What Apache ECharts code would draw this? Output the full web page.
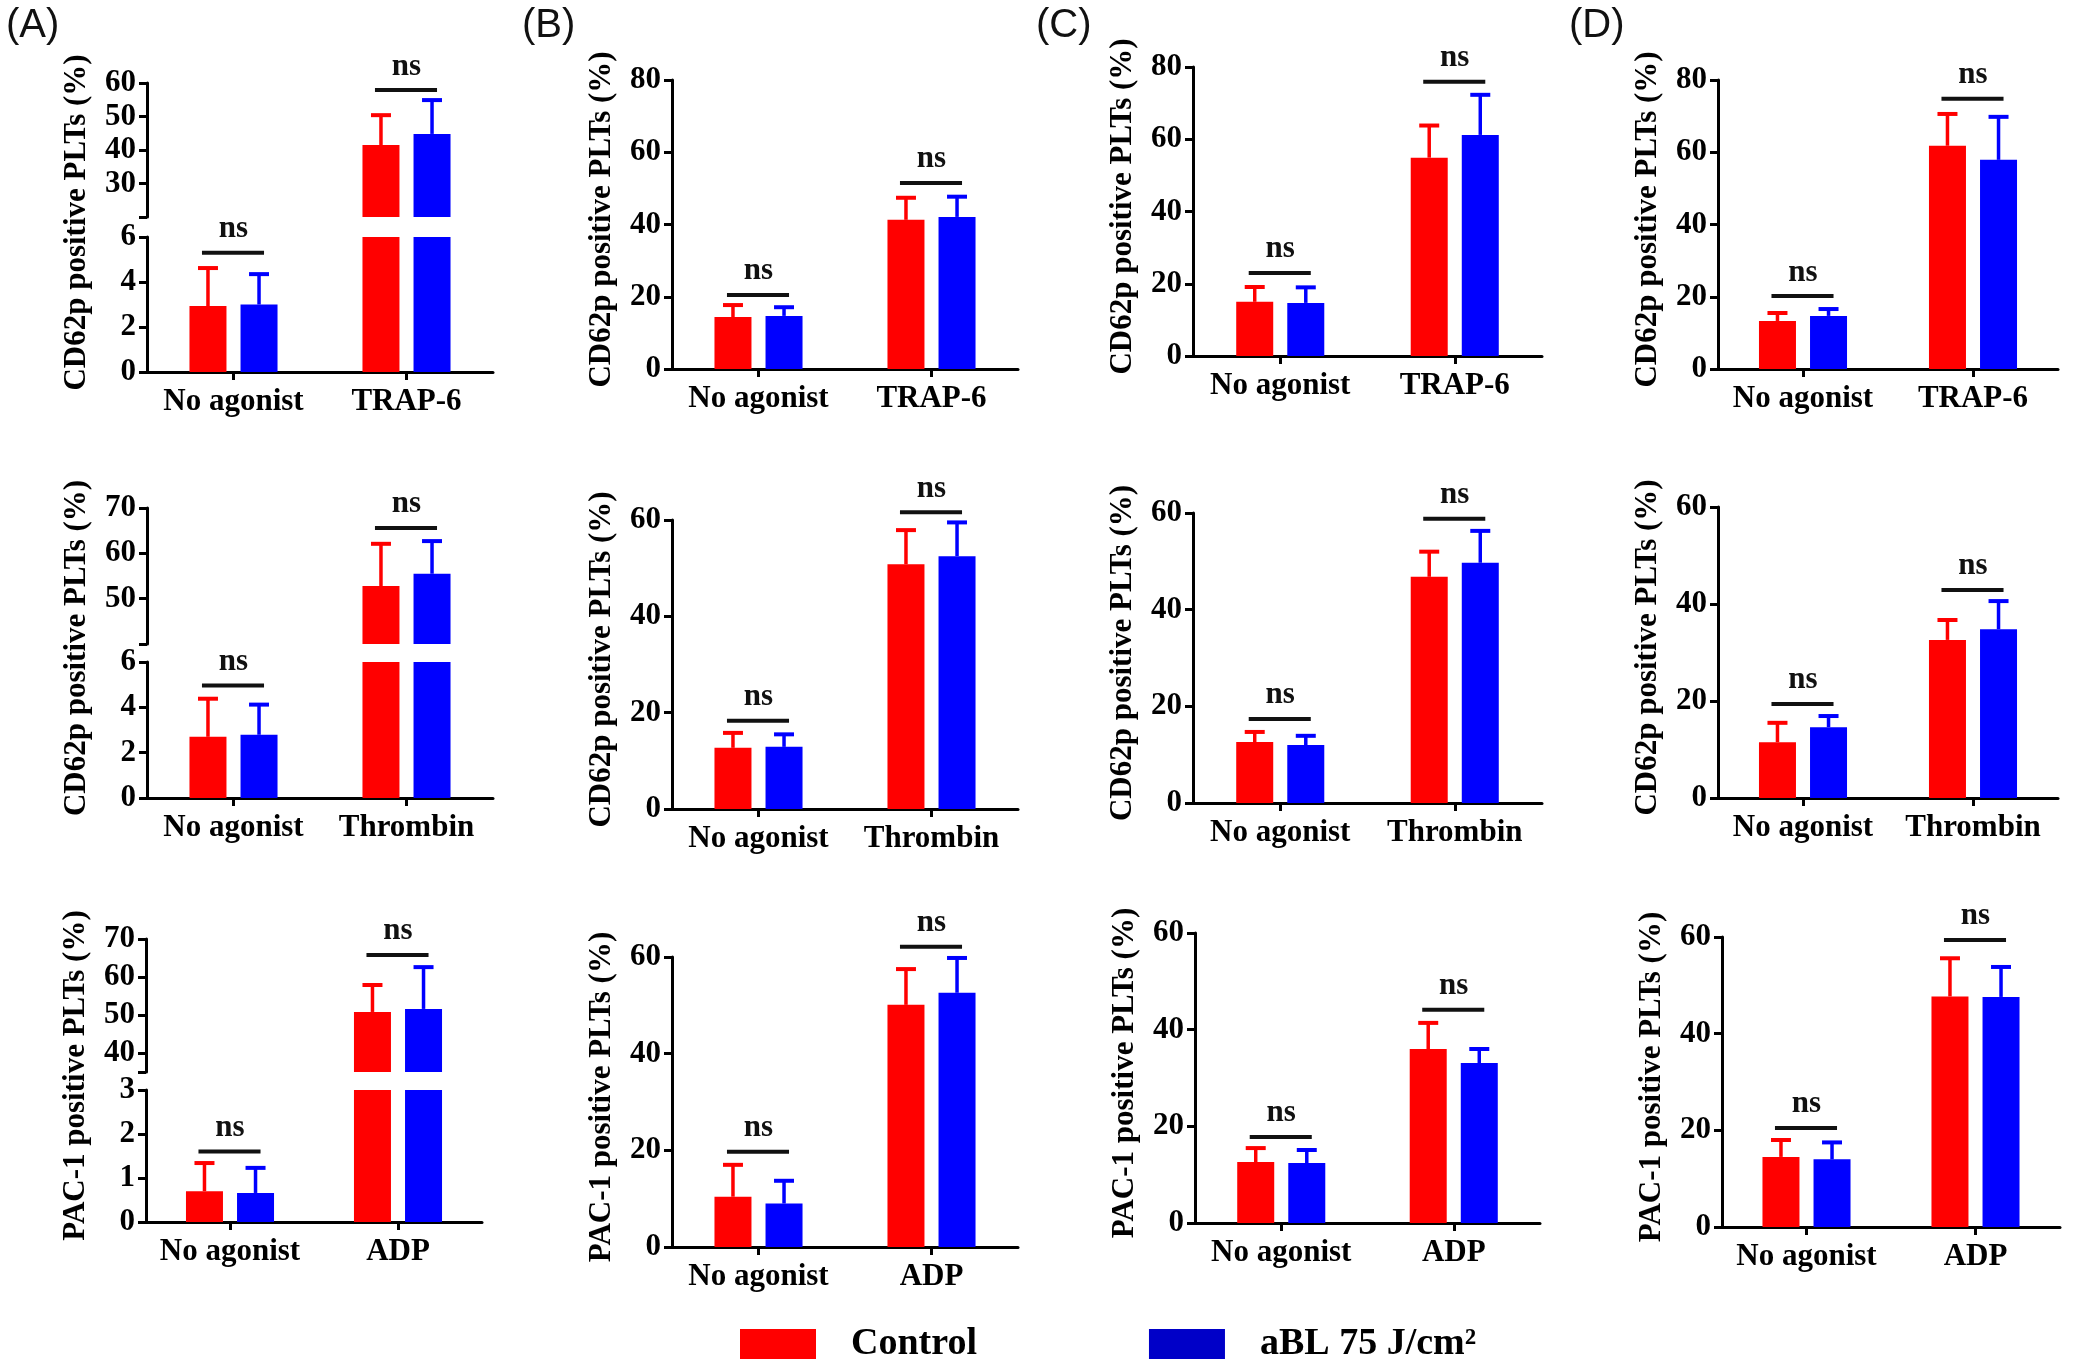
<!DOCTYPE html>
<html><head><meta charset="utf-8">
<script src="https://cdn.jsdelivr.net/npm/echarts@6/dist/echarts.min.js"></script>
<style>html,body{margin:0;padding:0;background:#fff}#c{width:2091px;height:1362px}</style>
</head><body><div id="c"></div>
<script>
// ---------------- DATA ----------------
const catsTRAP = ['No agonist', 'TRAP-6'];
const catsThr = ['No agonist', 'Thrombin'];
const catsADP = ['No agonist', 'ADP'];
const titleCD62p = 'CD62p positive PLTs (%)';
const titlePAC1 = 'PAC-1 positive PLTs (%)';
const nameControl = 'Control';
const nameABL = 'aBL 75 J/cm²';
const panelLetters = ['(A)', '(B)', '(C)', '(D)'];

// (A) – broken y axes
const A1_control = [2.93, 41.5], A1_controlSD = [1.69, 8.9], A1_abl = [3.0, 44.8], A1_ablSD = [1.35, 10.1], A1_ns = [5.3, 57.9];
const A1_lowTicks = [0, 2, 4, 6], A1_highTicks = [20, 30, 40, 50, 60], A1_highLabels = [30, 40, 50, 60];
const A2_control = [2.7, 52.8], A2_controlSD = [1.68, 9.3], A2_abl = [2.79, 55.5], A2_ablSD = [1.33, 7.2], A2_ns = [4.96, 65.6];
const A2_lowTicks = [0, 2, 4, 6], A2_highTicks = [40, 50, 60, 70], A2_highLabels = [50, 60, 70];
const A3_control = [0.7, 50.8], A3_controlSD = [0.64, 7.1], A3_abl = [0.66, 51.6], A3_ablSD = [0.57, 11.0], A3_ns = [1.6, 65.8];
const A3_lowTicks = [0, 1, 2, 3], A3_highTicks = [35, 40, 50, 60, 70], A3_highLabels = [40, 50, 60, 70];
// (B)
const B1_control = [14.4, 41.3], B1_controlSD = [3.3, 6.1], B1_abl = [14.7, 42.1], B1_ablSD = [2.4, 5.6], B1_ns = [20.5, 51.5];
const B2_control = [12.7, 50.8], B2_controlSD = [3.1, 7.1], B2_abl = [12.9, 52.5], B2_ablSD = [2.6, 7.0], B2_ns = [18.3, 61.6];
const B3_control = [10.4, 50.1], B3_controlSD = [6.6, 7.4], B3_abl = [9.0, 52.6], B3_ablSD = [4.7, 7.2], B3_ns = [19.7, 62.1];
// (C)
const C1_control = [15.0, 54.9], C1_controlSD = [4.1, 8.9], C1_abl = [14.7, 61.2], C1_ablSD = [4.3, 11.1], C1_ns = [23.0, 75.9];
const C2_control = [12.6, 46.8], C2_controlSD = [2.1, 5.2], C2_abl = [12.0, 49.7], C2_ablSD = [1.9, 6.6], C2_ns = [17.4, 58.8];
const C3_control = [12.6, 36.0], C3_controlSD = [2.9, 5.4], C3_abl = [12.4, 33.1], C3_ablSD = [2.7, 2.9], C3_ns = [17.8, 44.1];
// (D)
const D1_control = [13.3, 61.8], D1_controlSD = [2.2, 8.8], D1_abl = [14.7, 57.9], D1_ablSD = [1.9, 11.9], D1_ns = [20.2, 74.8];
const D2_control = [11.5, 32.6], D2_controlSD = [4.0, 4.1], D2_abl = [14.6, 34.8], D2_ablSD = [2.3, 5.8], D2_ns = [19.4, 42.9];
const D3_control = [14.5, 47.7], D3_controlSD = [3.5, 7.9], D3_abl = [14.0, 47.6], D3_ablSD = [3.5, 6.2], D3_ns = [20.5, 59.4];

const ticks80 = [0, 20, 40, 60, 80];
const ticks60 = [0, 20, 40, 60];

// ---------------- LAYOUT (pixels) ----------------
const layout = {
  A1: {left: 147, right: 493, top: 83, bottom: 372, lo: 237, hi: 217},
  A2: {left: 147, right: 493, top: 508, bottom: 798, lo: 662, hi: 644},
  A3: {left: 146, right: 482, top: 939, bottom: 1222, lo: 1090, hi: 1072},
  B1: {left: 672, right: 1018, top: 80, bottom: 369},
  B2: {left: 672, right: 1018, top: 520, bottom: 809},
  B3: {left: 672, right: 1018, top: 957, bottom: 1247},
  C1: {left: 1193, right: 1542, top: 67, bottom: 356},
  C2: {left: 1193, right: 1542, top: 513, bottom: 803},
  C3: {left: 1195, right: 1540, top: 933, bottom: 1223},
  D1: {left: 1718, right: 2058, top: 80, bottom: 369},
  D2: {left: 1718, right: 2058, top: 507, bottom: 798},
  D3: {left: 1722, right: 2060, top: 937, bottom: 1227}
};
const letterPos = [[6, 6], [522, 6], [1036, 6], [1569, 6]];

const SERIF = '"Liberation Serif", "Times New Roman", serif';
const RED = '#ff0000', BLUE = '#0000ff';
const BAR_W = 37, GAP_PCT = 38;
const OFFSET = (BAR_W + BAR_W * GAP_PCT / 100) / 2;
const FS = 31;

const panels = [
  {key: 'A1', cats: catsTRAP, title: titleCD62p, c: A1_control, cs: A1_controlSD, a: A1_abl, as: A1_ablSD, ns: A1_ns,
    segs: [{ticks: A1_lowTicks, labels: A1_lowTicks}, {ticks: A1_highTicks, labels: A1_highLabels}]},
  {key: 'A2', cats: catsThr, title: titleCD62p, c: A2_control, cs: A2_controlSD, a: A2_abl, as: A2_ablSD, ns: A2_ns,
    segs: [{ticks: A2_lowTicks, labels: A2_lowTicks}, {ticks: A2_highTicks, labels: A2_highLabels}]},
  {key: 'A3', cats: catsADP, title: titlePAC1, c: A3_control, cs: A3_controlSD, a: A3_abl, as: A3_ablSD, ns: A3_ns,
    segs: [{ticks: A3_lowTicks, labels: A3_lowTicks}, {ticks: A3_highTicks, labels: A3_highLabels}]},
  {key: 'B1', cats: catsTRAP, title: titleCD62p, c: B1_control, cs: B1_controlSD, a: B1_abl, as: B1_ablSD, ns: B1_ns, segs: [{ticks: ticks80, labels: ticks80}]},
  {key: 'B2', cats: catsThr, title: titleCD62p, c: B2_control, cs: B2_controlSD, a: B2_abl, as: B2_ablSD, ns: B2_ns, segs: [{ticks: ticks60, labels: ticks60}]},
  {key: 'B3', cats: catsADP, title: titlePAC1, c: B3_control, cs: B3_controlSD, a: B3_abl, as: B3_ablSD, ns: B3_ns, segs: [{ticks: ticks60, labels: ticks60}]},
  {key: 'C1', cats: catsTRAP, title: titleCD62p, c: C1_control, cs: C1_controlSD, a: C1_abl, as: C1_ablSD, ns: C1_ns, segs: [{ticks: ticks80, labels: ticks80}]},
  {key: 'C2', cats: catsThr, title: titleCD62p, c: C2_control, cs: C2_controlSD, a: C2_abl, as: C2_ablSD, ns: C2_ns, segs: [{ticks: ticks60, labels: ticks60}]},
  {key: 'C3', cats: catsADP, title: titlePAC1, c: C3_control, cs: C3_controlSD, a: C3_abl, as: C3_ablSD, ns: C3_ns, segs: [{ticks: ticks60, labels: ticks60}]},
  {key: 'D1', cats: catsTRAP, title: titleCD62p, c: D1_control, cs: D1_controlSD, a: D1_abl, as: D1_ablSD, ns: D1_ns, segs: [{ticks: ticks80, labels: ticks80}]},
  {key: 'D2', cats: catsThr, title: titleCD62p, c: D2_control, cs: D2_controlSD, a: D2_abl, as: D2_ablSD, ns: D2_ns, segs: [{ticks: ticks60, labels: ticks60}]},
  {key: 'D3', cats: catsADP, title: titlePAC1, c: D3_control, cs: D3_controlSD, a: D3_abl, as: D3_ablSD, ns: D3_ns, segs: [{ticks: ticks60, labels: ticks60}]}
];

const grids = [], xAxes = [], yAxes = [], series = [], graphics = [];

function errRender(side, color, lo, hi) {
  return function (params, api) {
    const cat = api.value(0), v = api.value(1), sd = api.value(2);
    if (v < lo || v > hi) return {type: 'group', children: []};
    const p0 = api.coord([cat, v]);
    const p1 = api.coord([cat, v + sd]);
    const cx = p0[0] + side * OFFSET;
    return {type: 'group', children: [
      {type: 'line', shape: {x1: cx, y1: p0[1], x2: cx, y2: p1[1]}, style: {stroke: color, lineWidth: 3.5}},
      {type: 'line', shape: {x1: cx - 10, y1: p1[1], x2: cx + 10, y2: p1[1]}, style: {stroke: color, lineWidth: 4}}
    ]};
  };
}
function nsRender(params, api) {
  const p = api.coord([api.value(0), api.value(1)]);
  return {type: 'group', children: [
    {type: 'line', shape: {x1: p[0] - OFFSET - 6, y1: p[1], x2: p[0] + OFFSET + 5, y2: p[1]}, style: {stroke: '#111', lineWidth: 4}},
    {type: 'text', x: p[0], y: p[1] - 8, style: {text: 'ns', font: 'bold ' + FS + 'px ' + SERIF, align: 'center', verticalAlign: 'bottom', fill: '#111'}}
  ]};
}

panels.forEach(function (p) {
  const L = layout[p.key];
  const rects = p.segs.length === 1 ? [{top: L.top, bottom: L.bottom}] : [{top: L.lo, bottom: L.bottom}, {top: L.top, bottom: L.hi}];
  p.segs.forEach(function (s, i) {
    const g = grids.length;
    const lo = s.ticks[0], hi = s.ticks[s.ticks.length - 1];
    grids.push({left: L.left, top: rects[i].top, width: L.right - L.left, height: rects[i].bottom - rects[i].top});
    xAxes.push({
      gridIndex: g, type: 'category', data: p.cats, show: i === 0,
      axisLine: {show: true, lineStyle: {color: '#000', width: 3}},
      axisTick: {show: true, alignWithLabel: true, interval: 0, length: 8, lineStyle: {color: '#000', width: 3}},
      axisLabel: {interval: 0, color: '#000', fontFamily: SERIF, fontWeight: 'bold', fontSize: FS, margin: 14},
      splitLine: {show: false}
    });
    yAxes.push({
      gridIndex: g, type: 'value', min: lo, max: hi,
      axisLine: {show: true, lineStyle: {color: '#000', width: 3}},
      axisTick: {show: true, length: 8, lineStyle: {color: '#000', width: 3}, customValues: s.ticks},
      axisLabel: {color: '#000', fontFamily: SERIF, fontWeight: 'bold', fontSize: FS, margin: 11, customValues: s.labels},
      splitLine: {show: false}
    });
    series.push({type: 'bar', name: nameControl, xAxisIndex: g, yAxisIndex: g, data: p.c, barWidth: BAR_W, barGap: GAP_PCT + '%', clip: true, itemStyle: {color: RED}, silent: true});
    series.push({type: 'bar', name: nameABL, xAxisIndex: g, yAxisIndex: g, data: p.a, barWidth: BAR_W, barGap: GAP_PCT + '%', clip: true, itemStyle: {color: BLUE}, silent: true});
    series.push({type: 'custom', xAxisIndex: g, yAxisIndex: g, renderItem: errRender(-1, RED, lo, hi), encode: {x: 0, y: 1},
      data: p.c.map(function (v, k) { return [k, v, p.cs[k]]; }), silent: true, z: 3});
    series.push({type: 'custom', xAxisIndex: g, yAxisIndex: g, renderItem: errRender(1, BLUE, lo, hi), encode: {x: 0, y: 1},
      data: p.a.map(function (v, k) { return [k, v, p.as[k]]; }), silent: true, z: 3});
    const nsData = [];
    p.ns.forEach(function (lv, k) {
      let segIdx = 0;
      p.segs.forEach(function (ss, j) { if (lv >= ss.ticks[0]) segIdx = j; });
      if (segIdx === i) nsData.push([k, lv]);
    });
    if (nsData.length) series.push({type: 'custom', xAxisIndex: g, yAxisIndex: g, renderItem: nsRender, encode: {x: 0, y: 1}, data: nsData, silent: true, z: 4});
  });
  graphics.push({type: 'text', x: L.left - 70, y: (L.top + L.bottom) / 2 - 5, rotation: Math.PI / 2,
    style: {text: p.title, font: 'bold ' + FS + 'px ' + SERIF, align: 'center', verticalAlign: 'middle', fill: '#000'}});
});

panelLetters.forEach(function (t, i) {
  graphics.push({type: 'text', x: letterPos[i][0], y: letterPos[i][1],
    style: {text: t, font: '40px "Liberation Sans", Arial, sans-serif', align: 'left', verticalAlign: 'top', fill: '#111'}});
});

const chart = echarts.init(document.getElementById('c'), null, {renderer: 'canvas'});
chart.setOption({
  backgroundColor: '#fff',
  animation: false,
  grid: grids, xAxis: xAxes, yAxis: yAxes, series: series, graphic: graphics,
  legend: {
    left: 735, top: 1320, itemWidth: 76, itemHeight: 30, itemGap: 172, icon: 'rect',
    selectedMode: false,
    data: [{name: nameControl, itemStyle: {color: RED}}, {name: nameABL, itemStyle: {color: '#0000c8'}}],
    textStyle: {fontFamily: SERIF, fontWeight: 'bold', fontSize: 38, color: '#000', padding: [0, 0, 0, 30]}
  }
});
</script></body></html>
